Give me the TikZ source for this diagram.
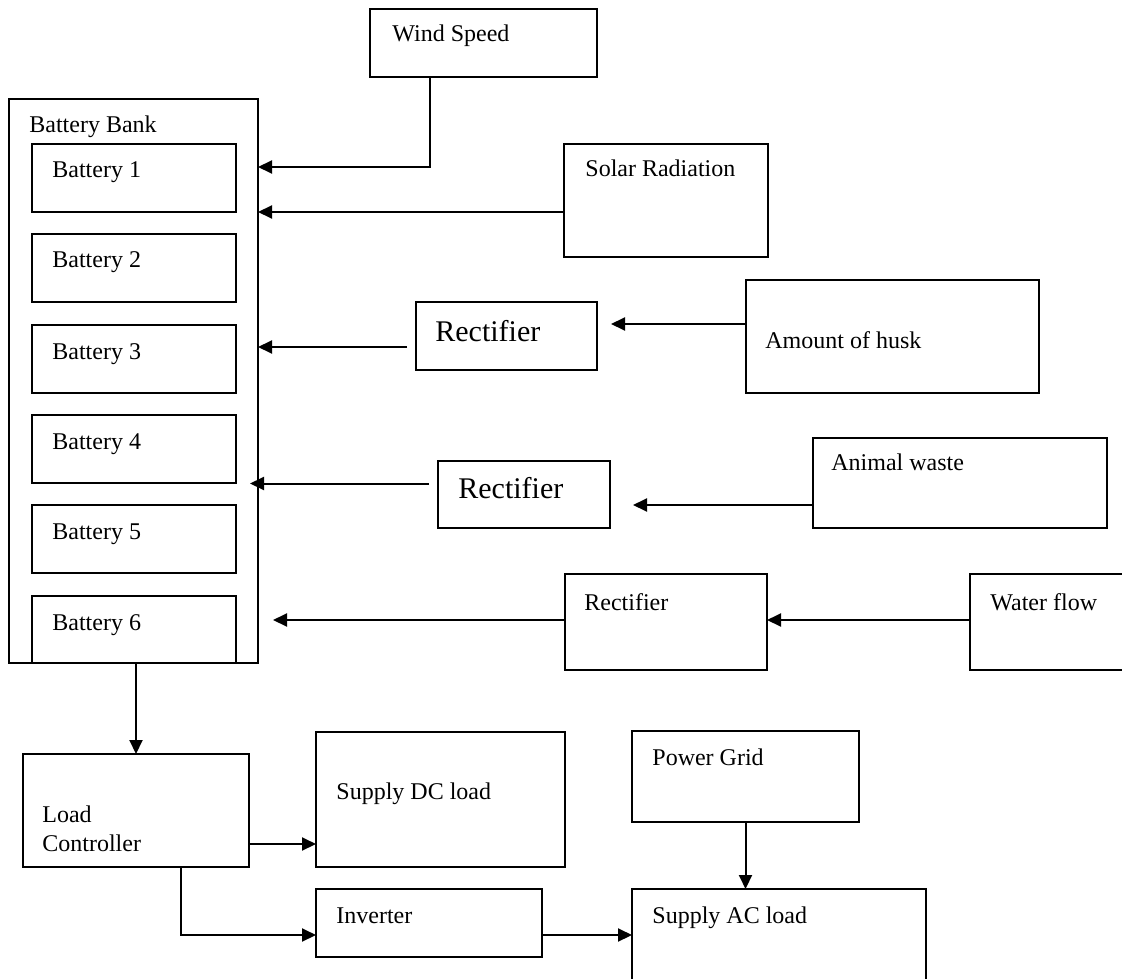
\documentclass[tikz,border=0pt]{standalone}
\usepackage{fontspec}
\setmainfont{Liberation Serif}
\usetikzlibrary{arrows.meta, fit, calc}

\begin{document}
\begin{tikzpicture}[
    x=0.5pt, y=-0.5pt,
    box/.style={draw, rectangle, line width=1pt, inner sep=0pt, outer sep=0pt},
    lab/.style 2 args={anchor=base west, inner sep=0pt, xshift=#1*0.5pt, yshift=-#2*0.5pt, font=\fontsize{12}{14.5}\selectfont, align=left},
    big/.style={font=\fontsize{15}{18}\selectfont},
    arrow/.style={draw, line width=1pt, -{Triangle[length=7pt, width=6.5pt]}}
]
\useasboundingbox (0,0) rectangle (1122,978);

% sources
\node[box, fit={(370,9) (597,77)}, label={[lab={22}{33}]north west:Wind Speed}] (wind) {};
\node[box, fit={(564,144) (768,257)}, label={[lab={21}{33}]north west:Solar Radiation}] (solar) {};
\node[box, fit={(746,280) (1039,393)}, label={[lab={19}{68}]north west:Amount of husk}] (husk) {};
\node[box, fit={(813,438) (1107,528)}, label={[lab={18}{32}]north west:Animal waste}] (animal) {};
\node[box, fit={(970,574) (1140,670)}, label={[lab={20}{36}]north west:Water flow}] (water) {};

% rectifiers
\node[box, fit={(416,302) (597,370)}, label={[lab={19}{39}, big]north west:Rectifier}] (rect1) {};
\node[box, fit={(438,461) (610,528)}, label={[lab={20}{37}, big]north west:Rectifier}] (rect2) {};
\node[box, fit={(565,574) (767,670)}, label={[lab={19}{36}]north west:Rectifier}] (rect3) {};

% battery bank
\node[box, fit={(9,99) (258,663)}, label={[lab={20}{34}]north west:Battery Bank}] (bank) {};
\node[box, fit={(32,144) (236,212)}, label={[lab={20}{34}]north west:Battery 1}] (bat1) {};
\node[box, fit={(32,234) (236,302)}, label={[lab={20}{34}]north west:Battery 2}] (bat2) {};
\node[box, fit={(32,325) (236,393)}, label={[lab={20}{34}]north west:Battery 3}] (bat3) {};
\node[box, fit={(32,415) (236,483)}, label={[lab={20}{34}]north west:Battery 4}] (bat4) {};
\node[box, fit={(32,505) (236,573)}, label={[lab={20}{34}]north west:Battery 5}] (bat5) {};
\node[box, fit={(32,596) (236,663)}, label={[lab={20}{34}]north west:Battery 6}] (bat6) {};

% loads
\node[box, fit={(23,754) (249,867)}, label={[lab={19}{97}]north west:Load\\Controller}] (lc) {};
\node[box, fit={(316,732) (565,867)}, label={[lab={20}{67}]north west:Supply DC load}] (dc) {};
\node[box, fit={(316,889) (542,957)}, label={[lab={20}{34}]north west:Inverter}] (inv) {};
\node[box, fit={(632,731) (859,822)}, label={[lab={20}{34}]north west:Power Grid}] (grid) {};
\node[box, fit={(632,889) (926,1000)}, label={[lab={20}{34}]north west:Supply AC load}] (ac) {};

\draw[arrow] ($(wind.south west)+(60,0)$) |- ($(bank.north east)+(0,68)$);
\draw[arrow] ($(solar.south west)+(0,-45)$) coordinate (s1) -- (bank.east |- s1);
\draw[arrow] ($(rect1.west)+(-9,11)$) coordinate (r1) -- (bank.east |- r1);
\draw[arrow] ($(husk.north west)+(0,44)$) coordinate (h1) -- ($(rect1.east |- h1)+(14,0)$);
\draw[arrow] ($(rect2.west)+(-9,-11)$) coordinate (r2) -- ($(bank.east |- r2)+(-8,0)$);
\draw[arrow] ($(animal.west)+(0,22)$) coordinate (a1) -- ($(rect2.east |- a1)+(23,0)$);
\draw[arrow] ($(rect3.north west)+(0,46)$) coordinate (r3) -- ($(bank.east |- r3)+(15,0)$);
\draw[arrow] (water.west |- r3) -- (rect3.east |- r3);
\draw[arrow] (bank.south -| lc.north) -- (lc.north);
\draw[arrow] ($(lc.south east)+(0,-23)$) coordinate (l1) -- (dc.west |- l1);
\draw[arrow] ($(lc.south)+(45,0)$) |- ($(inv.south west)+(0,-22)$);
\draw[arrow] ($(inv.south east)+(0,-22)$) coordinate (i1) -- (ac.west |- i1);
\draw[arrow] (grid.south) -- (ac.north -| grid.south);

\end{tikzpicture}
\end{document}
